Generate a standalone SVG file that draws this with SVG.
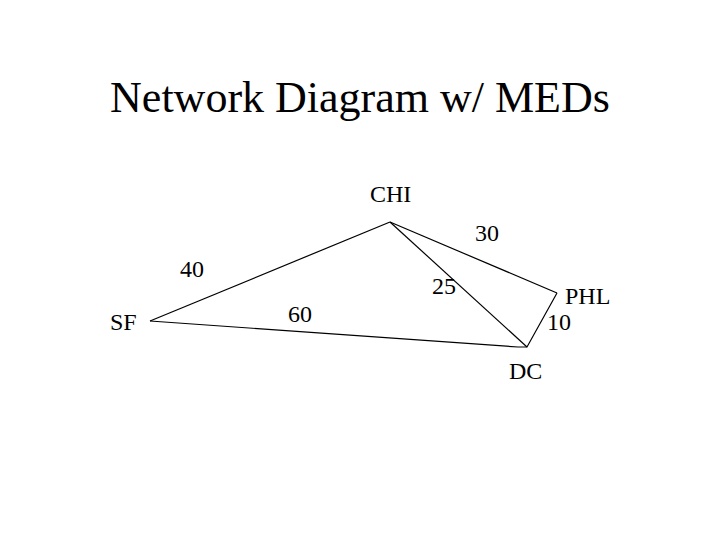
<svg xmlns="http://www.w3.org/2000/svg" width="720" height="540" viewBox="0 0 720 540">
<style>
text{font-family:"Liberation Serif",serif;fill:#000}
.t{font-size:44px}
.l{font-size:24px}
line,polyline{stroke:#000;stroke-width:1.2;fill:none}
</style>
<rect width="720" height="540" fill="#fff"/>
<text class="t" x="360" y="112" text-anchor="middle">Network Diagram w/ MEDs</text>
<g id="connectors">
<line x1="150" y1="321" x2="390" y2="222"/>
<line x1="390" y1="222" x2="527" y2="347"/>
<line x1="390" y1="222" x2="557" y2="293"/>
<polyline points="150,321 518,347 527,347 557,293"/>
</g>
<g id="CHI"><text class="l" x="370" y="202">CHI</text></g>
<g id="SF"><text class="l" x="110" y="330">SF</text></g>
<g id="DC"><text class="l" x="509" y="379">DC</text></g>
<g id="PHL"><text class="l" x="565" y="304">PHL</text></g>
<g id="labels">
<text class="l" x="475" y="241">30</text>
<text class="l" x="180" y="277">40</text>
<text class="l" x="432" y="294">25</text>
<text class="l" x="288" y="322">60</text>
<text class="l" x="547" y="330">10</text>
</g>
</svg>
